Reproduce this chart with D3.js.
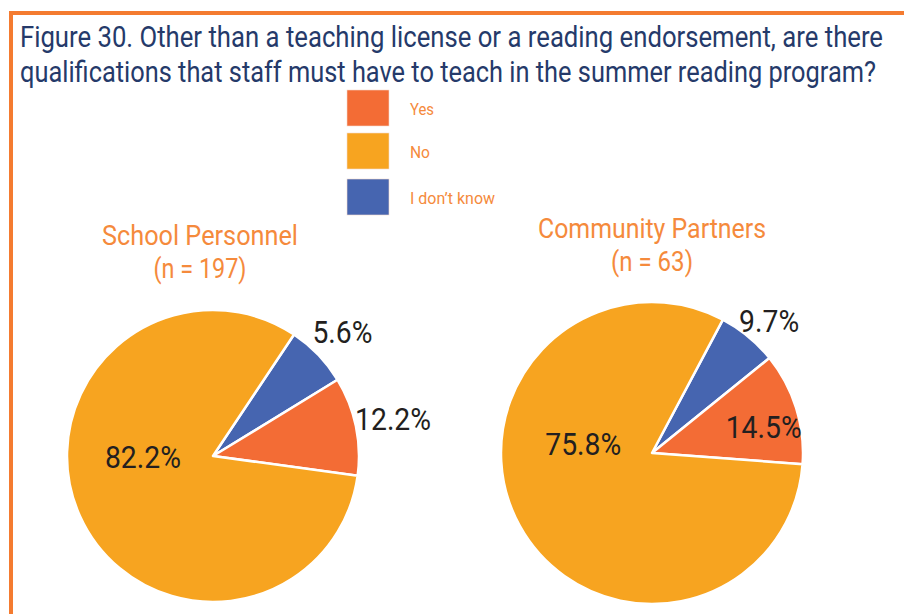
<!DOCTYPE html>
<html>
<head>
<meta charset="utf-8">
<script src="https://cdn.jsdelivr.net/npm/d3@7/dist/d3.min.js"></script>
<style>
  body { margin: 0; background: #fff; }
  text { font-family: "Roboto", "Liberation Sans", sans-serif; }
</style>
</head>
<body>
<div id="chart"></div>
<script>
// legend / category names
var categories = ["Yes", "No", "I don\u2019t know"];
var colors = ["#f36c35", "#f7a420", "#4665b0"];

// printed percentages (Yes, No, I don't know)
var schoolLabels = [12.2, 82.2, 5.6];
var partnerLabels = [14.5, 75.8, 9.7];

// wedge sizes as drawn in the picture (Yes, No, I don't know)
var schoolShares = [10.9, 82.2, 6.9];
var partnerShares = [12.0, 81.6, 6.4];

var groups = ["School Personnel", "Community Partners"];
var groupN = ["(n = 197)", "(n = 63)"];

var titleLines = [
  "Figure 30. Other than a teaching license or a reading endorsement, are there",
  "qualifications that staff must have to teach in the summer reading program?"
];

var width = 904, height = 614;

// the source uses a condensed face; squeeze regular glyphs to about that width
function squeeze(sel, w) {
  sel.attr('textLength', w).attr('lengthAdjust', 'spacingAndGlyphs');
}

var svg = d3.select('#chart')
  .append('svg')
  .attr('width', width)
  .attr('height', height);

// orange frame on the top and left
svg.append('path')
  .attr('d', 'M11,' + height + 'V13H' + width)
  .attr('fill', 'none')
  .attr('stroke', '#f47b30')
  .attr('stroke-width', 4);

// title
var titleWidths = [863, 856];
svg.selectAll('.title')
  .data(titleLines)
  .enter().append('text')
    .attr('class', 'title')
    .attr('x', 20)
    .attr('y', function(d, i) { return 47 + i * 35; })
    .attr('font-size', 30)
    .attr('fill', '#253a6a')
    .text(function(d) { return d; })
    .each(function(d, i) { squeeze(d3.select(this), titleWidths[i]); });

// legend
var legend = svg.append('g').attr('transform', 'translate(347,90)');
var legendY = [0, 43, 89];
var legendW = [24, 20, 85];
var item = legend.selectAll('g')
  .data(categories)
  .enter().append('g')
    .attr('transform', function(d, i) { return 'translate(0,' + legendY[i] + ')'; });
item.append('rect')
  .attr('width', 42)
  .attr('height', 36)
  .attr('fill', function(d, i) { return colors[i]; })
  .attr('stroke', '#f3d9cc')
  .attr('stroke-width', 0.6);
item.append('text')
  .attr('x', 63)
  .attr('y', 25)
  .attr('font-size', 17)
  .attr('fill', '#f58a3c')
  .text(function(d) { return d; })
  .each(function(d, i) { squeeze(d3.select(this), legendW[i]); });

// pies
var pies = [
  { cx: 213, cy: 456, r: 146, start: 33.7, shares: schoolShares, labels: schoolLabels,
    titleY: 245, headW: [196, 93], labelPos: [[1.26, 0], [0.48, -90], [1.23, 0]] },
  { cx: 652, cy: 453, r: 151, start: 28, shares: partnerShares, labels: partnerLabels,
    titleY: 238, headW: [228, 82], labelPos: [[0.76, 4], [0.46, -82], [1.17, 2]] }
];

// drawing order clockwise: I don't know, Yes, No
var drawOrder = [2, 0, 1];

pies.forEach(function(p, k) {
  var g = svg.append('g').attr('transform', 'translate(' + p.cx + ',' + p.cy + ')');
  var a0 = p.start * Math.PI / 180;
  var pie = d3.pie()
    .sort(null)
    .value(function(d) { return p.shares[d]; })
    .startAngle(a0)
    .endAngle(a0 + 2 * Math.PI);
  var arcs = pie(drawOrder);
  var arc = d3.arc().innerRadius(0).outerRadius(p.r);

  g.selectAll('path')
    .data(arcs)
    .enter().append('path')
      .attr('d', arc)
      .attr('fill', function(d) { return colors[d.data]; })
      .attr('stroke', '#fff')
      .attr('stroke-width', 2.5)
      .attr('stroke-linejoin', 'round');

  g.selectAll('.pct')
    .data(arcs)
    .enter().append('text')
      .attr('class', 'pct')
      .attr('font-size', 32)
      .attr('fill', '#231f20')
      .attr('text-anchor', 'middle')
      .attr('dy', '0.36em')
      .attr('transform', function(d) {
        var lp = p.labelPos[d.data];
        // the big "No" label sits left of centre, the others follow their wedge
        var ang = d.data === 1 ? lp[1] * Math.PI / 180
          : (d.startAngle + d.endAngle) / 2 + lp[1] * Math.PI / 180;
        var rr = lp[0] * p.r;
        return 'translate(' + (rr * Math.sin(ang)) + ',' + (-rr * Math.cos(ang)) + ')';
      })
      .text(function(d) { return p.labels[d.data].toFixed(1) + '%'; })
      .each(function(d) {
        squeeze(d3.select(this), p.labels[d.data] >= 10 ? 76 : 60);
      });

  // group heading
  var hx = p.cx - 13 * (1 - k);
  svg.append('text')
    .attr('x', hx - p.headW[0] / 2)
    .attr('y', p.titleY)
    .attr('font-size', 28)
    .attr('fill', '#f58a3c')
    .text(groups[k])
    .call(squeeze, p.headW[0]);
  svg.append('text')
    .attr('x', hx - p.headW[1] / 2)
    .attr('y', p.titleY + 33)
    .attr('font-size', 28)
    .attr('fill', '#f58a3c')
    .text(groupN[k])
    .call(squeeze, p.headW[1]);
});
</script>
</body>
</html>
